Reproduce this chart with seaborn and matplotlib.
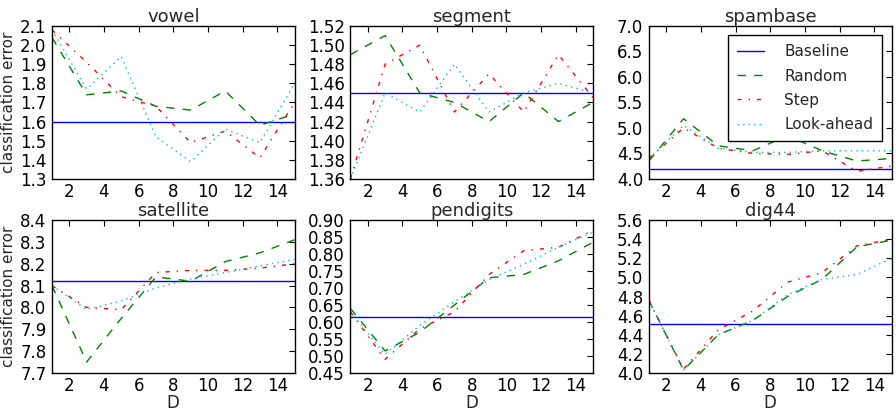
import pandas as pd
import matplotlib
matplotlib.use('Agg')
import matplotlib.pyplot as plt
import seaborn as sns

# depth values on the x axis
D = [1, 3, 5, 7, 9, 11, 13, 15]

datasets = ['vowel', 'segment', 'spambase', 'satellite', 'pendigits', 'dig44']

# baseline error per dataset
baseline = [1.60, 1.45, 4.20, 8.12, 0.615, 4.51]

random_err = [
    [2.04, 1.74, 1.76, 1.68, 1.66, 1.76, 1.58, 1.64],
    [1.49, 1.51, 1.45, 1.44, 1.42, 1.45, 1.42, 1.44],
    [4.35, 5.18, 4.65, 4.55, 4.85, 4.55, 4.35, 4.40],
    [8.10, 7.75, 7.95, 8.14, 8.12, 8.21, 8.25, 8.31],
    [0.64, 0.515, 0.57, 0.65, 0.73, 0.74, 0.78, 0.835],
    [4.76, 4.03, 4.40, 4.55, 4.80, 4.98, 5.32, 5.39],
]
step_err = [
    [2.08, 1.91, 1.73, 1.68, 1.49, 1.55, 1.41, 1.70],
    [1.36, 1.48, 1.50, 1.43, 1.47, 1.43, 1.49, 1.445],
    [4.40, 5.00, 4.60, 4.50, 4.48, 4.55, 4.15, 4.25],
    [8.10, 8.00, 7.99, 8.16, 8.17, 8.17, 8.18, 8.20],
    [0.63, 0.49, 0.58, 0.63, 0.74, 0.81, 0.82, 0.87],
    [4.76, 4.04, 4.45, 4.65, 4.95, 5.05, 5.33, 5.40],
]
look_err = [
    [2.08, 1.77, 1.94, 1.52, 1.39, 1.56, 1.49, 1.80],
    [1.36, 1.45, 1.43, 1.48, 1.43, 1.45, 1.46, 1.45],
    [4.40, 5.05, 4.60, 4.52, 4.52, 4.55, 4.55, 4.55],
    [8.10, 7.99, 8.03, 8.09, 8.13, 8.16, 8.19, 8.22],
    [0.63, 0.505, 0.59, 0.66, 0.725, 0.77, 0.82, 0.865],
    [4.76, 4.03, 4.40, 4.55, 4.82, 4.98, 5.03, 5.20],
]

# y axis limits/ticks per dataset
ylims = [(1.3, 2.1), (1.36, 1.52), (4.0, 7.0), (7.7, 8.4), (0.45, 0.90), (4.0, 5.6)]
ysteps = [0.1, 0.02, 0.5, 0.1, 0.05, 0.2]
yfmt = ['%.1f', '%.2f', '%.1f', '%.1f', '%.2f', '%.1f']

sns.set_style('white')
plt.rcParams['font.family'] = ['DejaVu Sans']
plt.rcParams['xtick.direction'] = 'in'
plt.rcParams['ytick.direction'] = 'in'
plt.rcParams['xtick.top'] = True
plt.rcParams['ytick.right'] = True

fig, axes = plt.subplots(2, 3, figsize=(8.96, 4.13), dpi=100)
fig.subplots_adjust(left=0.058, right=0.995, top=0.937, bottom=0.097,
                    wspace=0.23, hspace=0.27)

for i, ax in enumerate(axes.flat):
    ax.axhline(baseline[i], color='b', lw=1, label='Baseline')
    sns.lineplot(x=D, y=random_err[i], ax=ax, color='g', lw=1, label='Random')
    sns.lineplot(x=D, y=step_err[i], ax=ax, color='r', lw=1, label='Step')
    sns.lineplot(x=D, y=look_err[i], ax=ax, color='c', lw=1, label='Look-ahead')
    lines = ax.get_lines()
    lines[1].set_dashes((6, 6))
    lines[2].set_dashes((3, 5, 1, 5))
    lines[3].set_dashes((1, 3))

    ax.set_xlim(1, 15)
    ax.set_xticks(range(2, 16, 2))
    lo, hi = ylims[i]
    n = int(round((hi - lo) / ysteps[i]))
    ticks = [lo + k * ysteps[i] for k in range(n + 1)]
    ax.set_ylim(lo, hi)
    ax.set_yticks(ticks)
    ax.set_yticklabels([yfmt[i] % t for t in ticks])
    ax.tick_params(labelsize=12, length=4, width=0.8, colors='black', pad=4)
    ax.tick_params(axis='x', pad=3)
    for s in ax.spines.values():
        s.set_color('black')
        s.set_linewidth(1)
    ax.set_title(datasets[i], fontsize=13, pad=3)
    if i % 3 == 0:
        ax.set_ylabel('classification error', fontsize=11, labelpad=3)
    if i >= 3:
        ax.set_xlabel('D', fontsize=12, labelpad=-1)
    if i == 2:
        leg = ax.legend(loc='upper right', fontsize=11, fancybox=False,
                        frameon=True, edgecolor='black', framealpha=1,
                        handlelength=1.8, handletextpad=1.3, borderpad=0.6,
                        labelspacing=0.6, borderaxespad=0.6)
        leg.get_frame().set_linewidth(1)
    elif ax.get_legend():
        ax.get_legend().remove()

fig.savefig('out.png', dpi=100)
